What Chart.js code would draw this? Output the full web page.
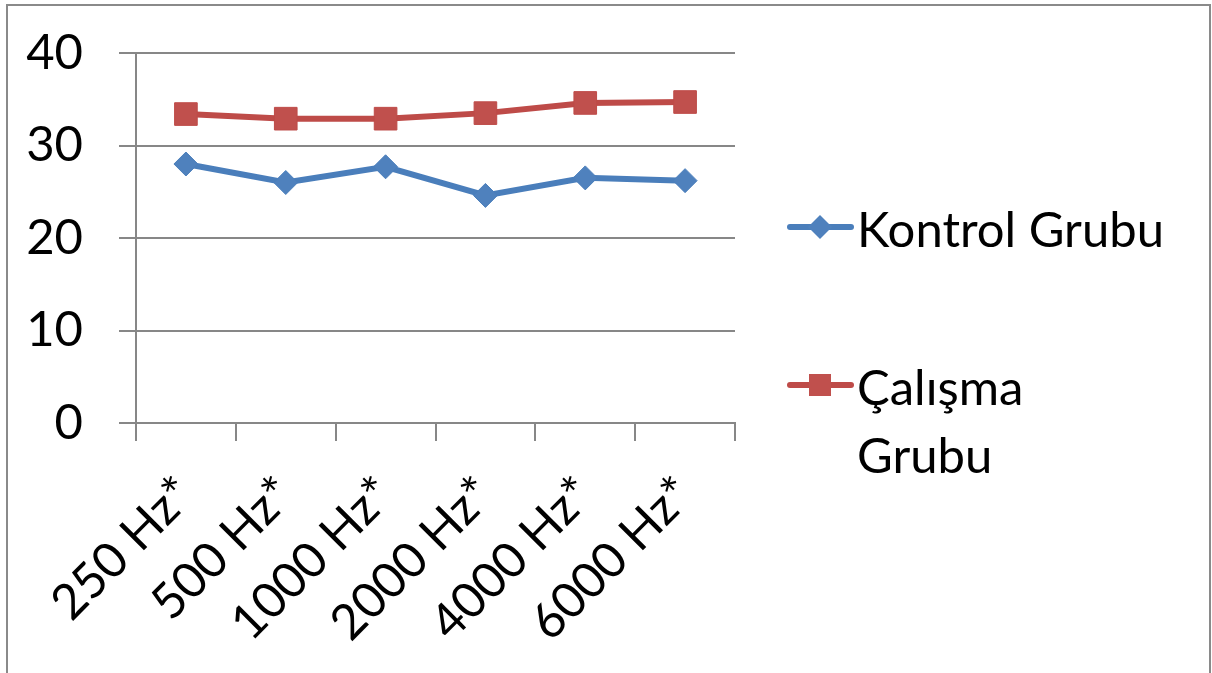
<!DOCTYPE html>
<html>
<head>
<meta charset="utf-8">
<script src="https://cdn.jsdelivr.net/npm/chart.js@4.4.0/dist/chart.umd.min.js"></script>
<style>
  html, body { margin: 0; padding: 0; background: #fff; }
  #frame { position: absolute; left: 6px; top: 4px; width: 1201px; height: 700px; border: 2px solid #8a8a8a; }
  #wrap { position: absolute; left: 0; top: 0; width: 1212px; height: 673px; }
</style>
</head>
<body>
<div id="frame"></div>
<div id="wrap"><canvas id="chart"></canvas></div>
<script>
  const frequencies = ["250 Hz*", "500 Hz*", "1000 Hz*", "2000 Hz*", "4000 Hz*", "6000 Hz*"];
  const kontrolGrubu = [28.0, 26.0, 27.7, 24.6, 26.5, 26.2];
  const calismaGrubu = [33.4, 32.9, 32.9, 33.5, 34.6, 34.7];
  const yTicks = [0, 10, 20, 30, 40];
  const seriesNames = ["Kontrol Grubu", "Çalışma Grubu"];
  // legend text as it wraps in the original
  const legendLines = [["Kontrol Grubu"], ["Çalışma", "Grubu"]];

  const FONT = "Lato, 'Open Sans', sans-serif";
  const GRID = "#878787";

  const sideLegend = {
    id: "sideLegend",
    afterDraw(chart) {
      const ctx = chart.ctx;
      const rows = [227, 385];
      ctx.save();
      chart.data.datasets.forEach((ds, i) => {
        const y = rows[i];
        ctx.strokeStyle = ds.borderColor;
        ctx.lineWidth = 6;
        ctx.lineCap = "round";
        ctx.beginPath();
        ctx.moveTo(790, y);
        ctx.lineTo(851, y);
        ctx.stroke();

        ctx.fillStyle = ds.backgroundColor;
        ctx.beginPath();
        if (ds.pointStyle === "rectRot") {
          ctx.moveTo(820 - 12, y);
          ctx.lineTo(820, y - 12);
          ctx.lineTo(820 + 12, y);
          ctx.lineTo(820, y + 12);
          ctx.closePath();
        } else {
          ctx.rect(820 - 11, y - 11, 22, 22);
        }
        ctx.fill();

        ctx.fillStyle = "#000";
        ctx.font = "49px " + FONT;
        ctx.textBaseline = "alphabetic";
        ctx.textAlign = "left";
        legendLines[i].forEach((line, k) => {
          ctx.fillText(line, 857, y + 20 + k * 68);
        });
      });
      ctx.restore();
    },
  };

  const ctx = document.getElementById("chart").getContext("2d");
  const chart = new Chart(ctx, {
    type: "line",
    data: {
      labels: frequencies,
      datasets: [
        {
          label: seriesNames[0],
          data: kontrolGrubu,
          borderColor: "#4a7ebb",
          backgroundColor: "#4f81bd",
          borderWidth: 6,
          pointStyle: "rectRot",
          pointRadius: 12,
          pointBorderWidth: 1,
          pointBorderColor: "#4a7ebb",
          tension: 0,
        },
        {
          label: seriesNames[1],
          data: calismaGrubu,
          borderColor: "#be4b48",
          backgroundColor: "#c0504d",
          borderWidth: 6,
          pointStyle: "rect",
          pointRadius: 16,
          pointBorderWidth: 1,
          pointBorderColor: "#be4b48",
          tension: 0,
        },
      ],
    },
    options: {
      responsive: true,
      maintainAspectRatio: false,
      animation: false,
      layout: {
        padding: { top: 53, right: 477, left: 0, bottom: 0 },
      },
      plugins: {
        legend: { display: false },
        tooltip: { enabled: false },
      },
      scales: {
        x: {
          offset: true,
          grid: {
            offset: true,
            drawOnChartArea: false,
            tickLength: 18,
            color: GRID,
            lineWidth: 2,
          },
          border: { display: true, color: GRID, width: 2 },
          ticks: {
            autoSkip: false,
            maxRotation: 45,
            minRotation: 45,
            padding: 24,
            color: "#000",
            font: { family: FONT, size: 49 },
          },
          afterFit(scale) {
            scale.height = 250;
          },
        },
        y: {
          min: yTicks[0],
          max: yTicks[yTicks.length - 1],
          afterBuildTicks(scale) {
            scale.ticks = yTicks.map((v) => ({ value: v }));
          },
          grid: {
            color: GRID,
            lineWidth: 2,
            tickLength: 17,
          },
          border: { display: true, color: GRID, width: 2 },
          ticks: {
            padding: 36,
            color: "#000",
            font: { family: FONT, size: 49 },
          },
          afterFit(scale) {
            scale.width = 136;
            scale.paddingTop = 0;
            scale.paddingBottom = 0;
          },
        },
      },
    },
    plugins: [sideLegend],
  });
</script>
</body>
</html>
